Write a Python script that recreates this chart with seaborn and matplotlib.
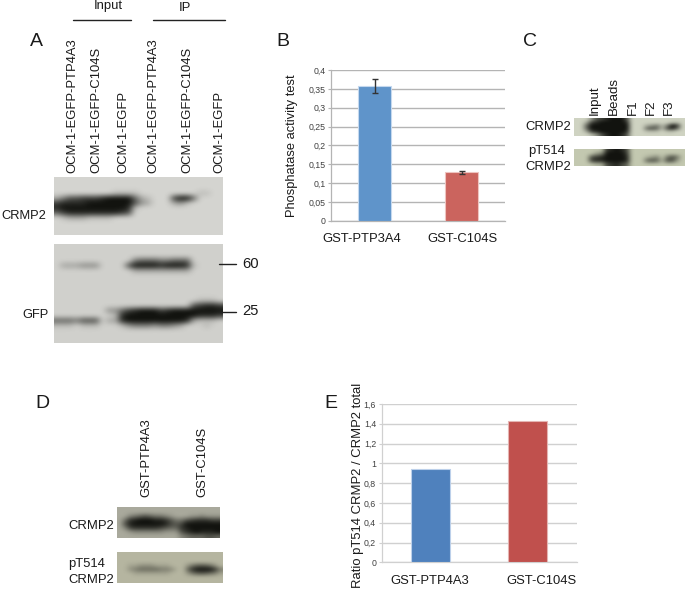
import numpy as np
import matplotlib
matplotlib.use("Agg")
import matplotlib.pyplot as plt
from matplotlib.colors import LinearSegmentedColormap
from matplotlib.transforms import ScaledTranslation
import seaborn as sns

W, H = 685, 589

# ---- chart data ----
b_categories = ["GST-PTP3A4", "GST-C104S"]
b_values = [0.357, 0.128]
b_errors = [0.019, 0.004]
b_ticks = [0, 0.05, 0.1, 0.15, 0.2, 0.25, 0.3, 0.35, 0.4]
b_ticklabels = ["0", "0,05", "0,1", "0,15", "0,2", "0,25", "0,3", "0,35", "0,4"]
b_colors = ["#5f94ca", "#cb645e"]
b_edges = ["#c4d8ee", "#eec4c0"]

e_categories = ["GST-PTP4A3", "GST-C104S"]
e_values = [0.94, 1.43]
e_ticks = [0, 0.2, 0.4, 0.6, 0.8, 1, 1.2, 1.4, 1.6]
e_ticklabels = ["0", "0,2", "0,4", "0,6", "0,8", "1", "1,2", "1,4", "1,6"]
e_colors = ["#4f81bd", "#c0504d"]
e_edges = ["#bcd0ea", "#e4b4b2"]

# ---- blot darkness (0 = background, 9 = darkest) ----
blot_a1 = ["0" * 26, "0" * 26, "0" * 26,
           "00000000011110000000001100",
           "24667778999952100079950000",
           "78888999999963200023100000",
           "89999999999810000000000000",
           "57888888887600000000000000",
           "01222111100000000000000000",
           "0" * 26, "0" * 26, "0" * 26]
blot_a2 = ["0" * 26, "0" * 26, "0" * 26,
           "00000000000045554455500000",
           "02223330000699998999810000",
           "00000000000022222222200000",
           "0" * 26, "0" * 26, "0" * 26, "0" * 26, "0" * 26,
           "00000000000000000000001110",
           "00000000000000000000067887",
           "00000000335789997899999999",
           "00000000018999999999998887",
           "55546660228999999999821110",
           "11101110001344434432000100",
           "0" * 26, "0" * 26, "0" * 26]
blot_c1 = ["0003678999600000000000",
           "0027899999800000000110",
           "0059999999900023414970",
           "0059999999900056516850",
           "0027899999800011101100",
           "0001368998600000000000"]
blot_c2 = ["0000007898600000000000",
           "0000239999700000000000",
           "0006789999800012304640",
           "0007889999800056516620",
           "0000116786500000000000"]
blot_d1 = ["0" * 20, "0" * 20,
           "00234543321000112111",
           "03789998875335677766",
           "05899999986569999999",
           "02677777654478999999",
           "00122222211157898889",
           "00000000000023444554"]
blot_d2 = ["0" * 20, "0" * 20, "0" * 20,
           "00112221110002455420",
           "00234444332005899973",
           "00011111110002455431",
           "0" * 20, "0" * 20]

lanes_a = ["OCM-1-EGFP-PTP4A3", "OCM-1-EGFP-C104S", "OCM-1-EGFP",
           "OCM-1-EGFP-PTP4A3", "OCM-1-EGFP-C104S", "OCM-1-EGFP"]
lanes_c = ["Input", "Beads", "F1", "F2", "F3"]
lanes_d = ["GST-PTP4A3", "GST-C104S"]

sns.set_theme(style="white")
plt.rcParams["font.family"] = ["Liberation Sans", "DejaVu Sans"]

fig = plt.figure(figsize=(W / 100, H / 100), dpi=100, facecolor="white")


def box(x0, y0, x1, y1):
    return [x0 / W, 1 - y1 / H, (x1 - x0) / W, (y1 - y0) / H]


def label(x, y, s, size=9.4, ha="center", va="center", rot=0, color="#1a1a1a"):
    fig.text(x / W, 1 - y / H, s, fontsize=size, ha=ha, va=va, rotation=rot, color=color)


def rule(x0, x1, y):
    fig.add_artist(plt.Line2D([x0 / W, x1 / W], [1 - y / H] * 2, color="#222222", lw=1.0))


def blot(rows, rect, bg):
    ax = fig.add_axes(box(*rect))
    grid = np.array([[int(c) for c in r] for r in rows], dtype=float)
    cmap = LinearSegmentedColormap.from_list("b", [bg, "#12130f"])
    ax.imshow(grid, cmap=cmap, vmin=0, vmax=9, aspect="auto", interpolation="bicubic")
    ax.axis("off")


def bars(rect, cats, vals, colors, edges, ymax, ticks, ticklabels, width, grid, offsets, labelpad):
    ax = fig.add_axes(box(*rect))
    sns.barplot(x=cats, y=vals, hue=cats, palette=colors, dodge=False, legend=False,
                width=width, saturation=1, linewidth=0.8, zorder=3, ax=ax)
    for patch, edge in zip(ax.patches, edges):
        patch.set_edgecolor(edge)
    ax.set_xlim(-0.5, 1.5)
    ax.set_ylim(0, ymax)
    ax.set_yticks(ticks)
    ax.set_yticklabels(ticklabels, fontsize=6.3, color="#404040")
    ax.tick_params(axis="y", length=2.5, width=0.8, color=grid, pad=1.5, left=True)
    ax.tick_params(axis="x", length=0, labelsize=9.4, pad=labelpad, labelcolor="#1a1a1a")
    ax.grid(axis="y", color=grid, lw=1.0, zorder=0)
    ax.set_axisbelow(True)
    for s in ("top", "right"):
        ax.spines[s].set_visible(False)
    for s in ("left", "bottom"):
        ax.spines[s].set_color(grid)
        ax.spines[s].set_linewidth(0.9)
    for t, off in zip(ax.get_xticklabels(), offsets):
        t.set_transform(t.get_transform() + ScaledTranslation(off / 100, 0, fig.dpi_scale_trans))
    return ax


# ---- Panel A ----
label(36, 41, "A", 14)
label(108, 6, "Input")
label(185, 8, "IP")
rule(73, 131, 20)
rule(153, 225, 20)
for x, s in zip([72, 96, 123, 153, 187, 219], lanes_a):
    label(x, 173, s, rot=90, va="bottom")
blot(blot_a1, (54, 177, 223, 235), "#d4d4d0")
blot(blot_a2, (54, 244, 223, 343), "#d0d0cc")
label(1, 216, "CRMP2", ha="left", size=9.3)
label(22, 315, "GFP", ha="left", size=9.3)
label(242, 264, "60", ha="left", size=10.6)
label(242, 311, "25", ha="left", size=10.6)
rule(219, 236, 264)
rule(220, 236, 312)

# ---- Panel B ----
label(283, 41, "B", 14)
ax_b = bars((331, 70, 505, 220.7), b_categories, b_values, b_colors, b_edges, 0.4, b_ticks,
            b_ticklabels, 0.39, "#b4b4b4", [-13, 1], 9)
ax_b.errorbar(b_categories, b_values, yerr=b_errors, fmt="none", ecolor="#333333",
              elinewidth=1.0, capsize=2.2, capthick=1.0, zorder=4)
label(292, 146, "Phosphatase activity test", rot=90, size=9.3)

# ---- Panel C ----
label(530, 41, "C", 14)
for x, s in zip([595, 614, 633, 651, 669], lanes_c):
    label(x, 115, s, rot=90, va="bottom", size=9.6)
blot(blot_c1, (574, 118, 685, 136), "#cfd3c2")
blot(blot_c2, (574, 149, 685, 166), "#c3c8b0")
label(571, 127, "CRMP2", ha="right")
label(547, 151, "pT514")
label(571, 167, "CRMP2", ha="right")

# ---- Panel D ----
label(42, 403, "D", 14)
for x, s in zip([146, 202], lanes_d):
    label(x, 497, s, rot=90, va="bottom")
blot(blot_d1, (117, 507, 220, 538), "#a9a99c")
blot(blot_d2, (117, 552, 222, 583), "#b5b5a0")
label(68, 526, "CRMP2", ha="left")
label(68, 564, "pT514", ha="left")
label(68, 580, "CRMP2", ha="left")

# ---- Panel E ----
label(331, 403, "E", 14)
ax_e = bars((381.7, 404, 576.7, 562.3), e_categories, e_values, e_colors, e_edges, 1.6, e_ticks,
            e_ticklabels, 0.4, "#d0d0d0", [-1, 13], 9)
label(358, 485, "Ratio pT514 CRMP2 / CRMP2 total", rot=90)

fig.savefig("out.png", dpi=100, facecolor="white")
